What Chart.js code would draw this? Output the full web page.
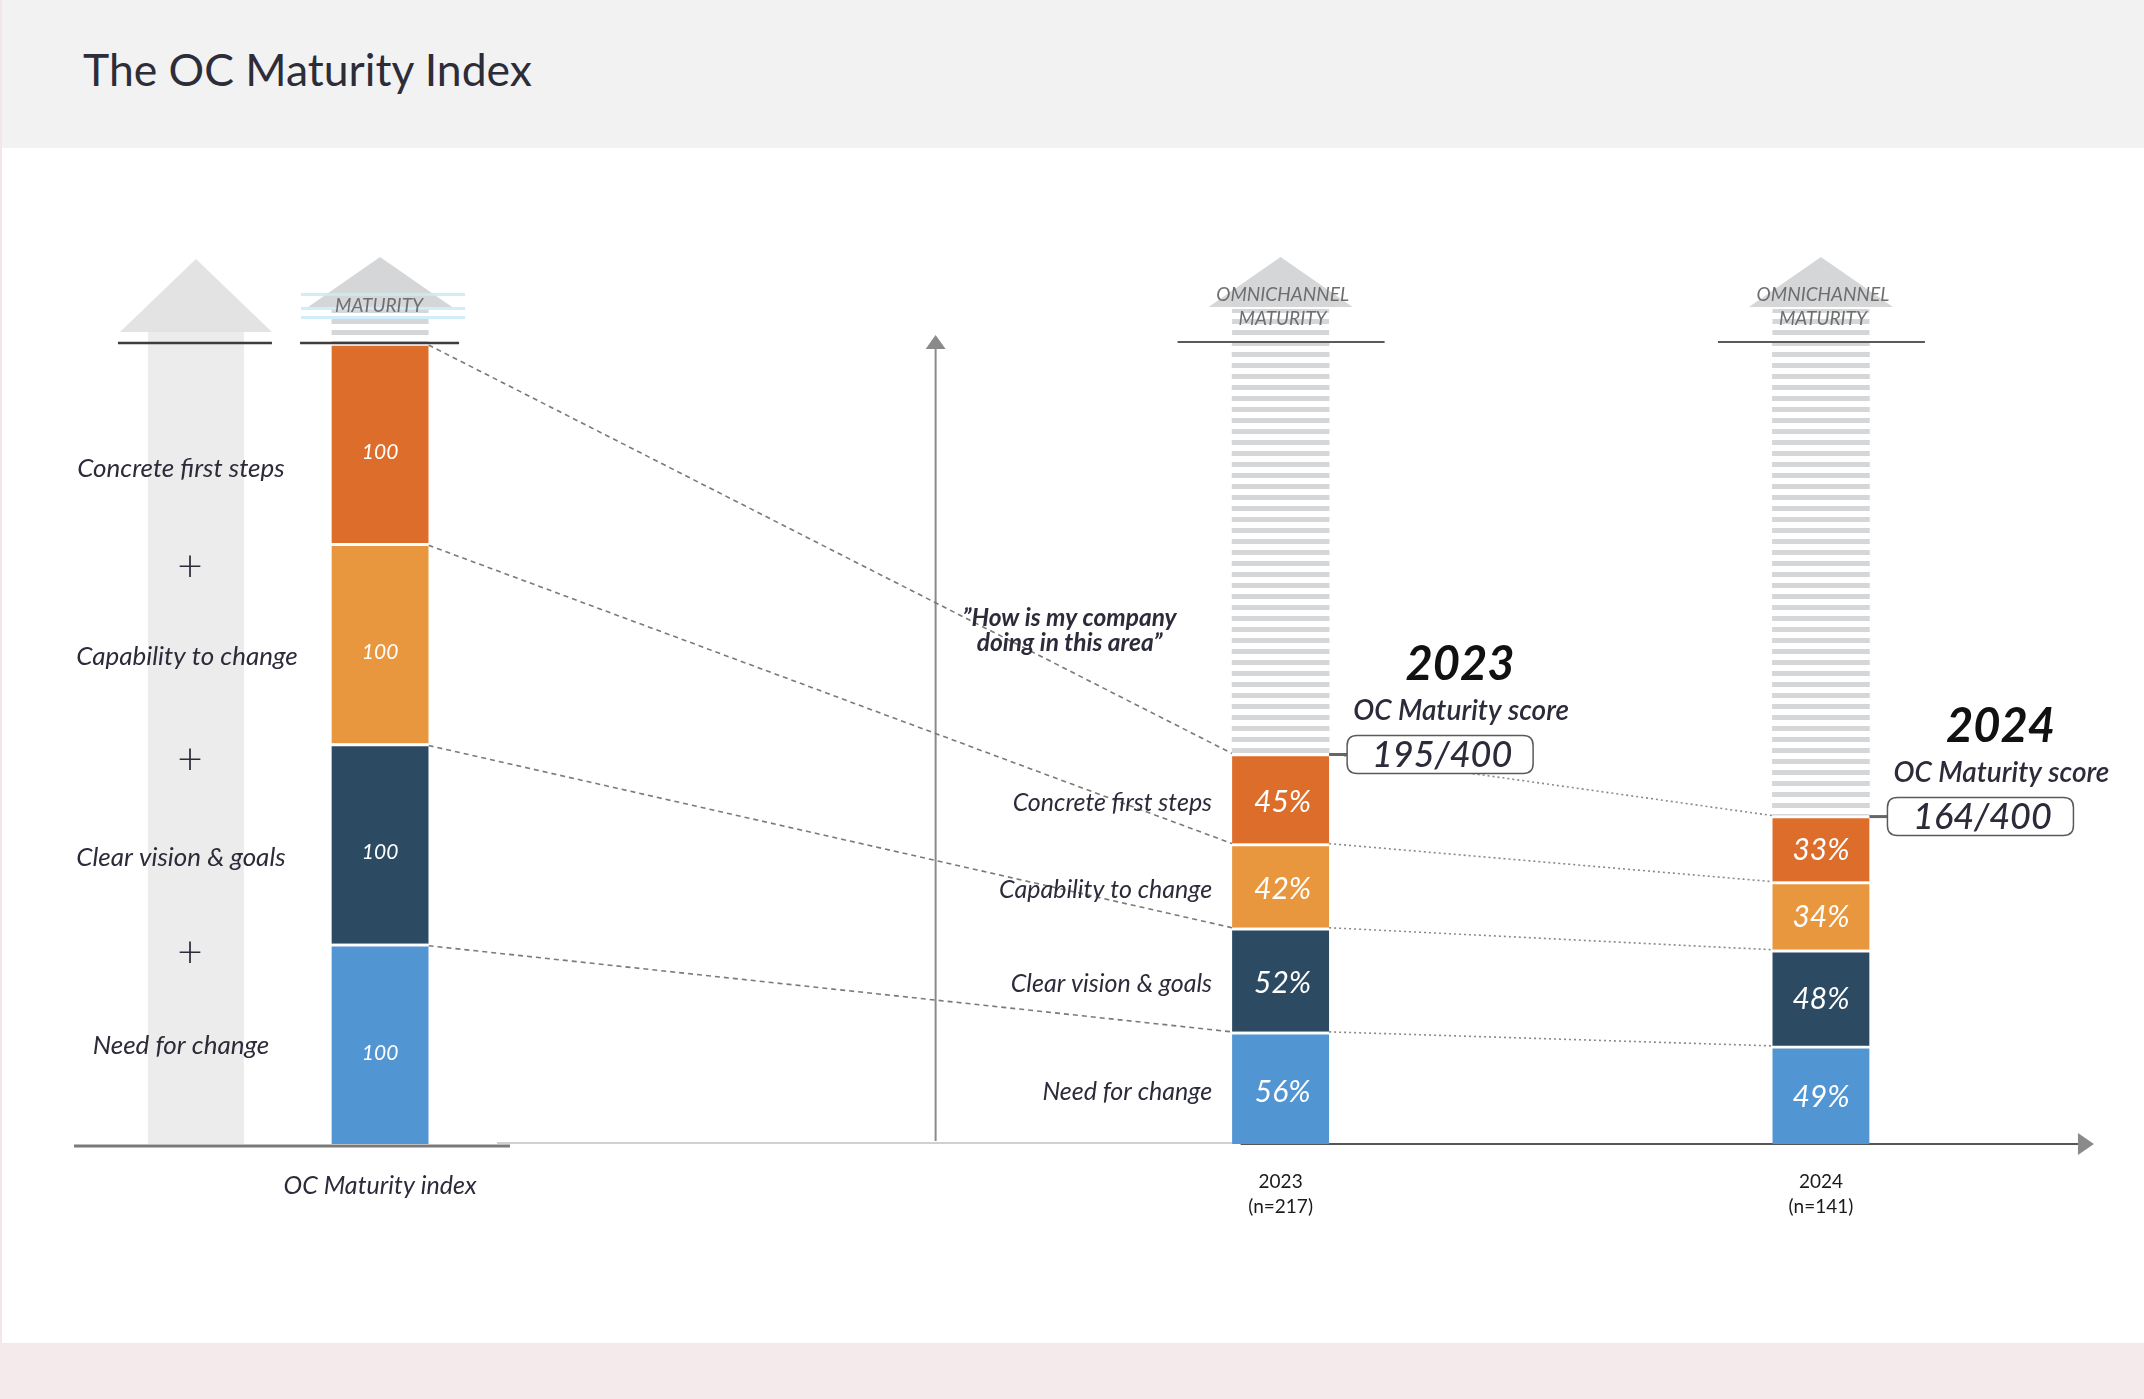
<!DOCTYPE html>
<html><head><meta charset="utf-8">
<script src="https://cdn.jsdelivr.net/npm/chart.js@4.4.1/dist/chart.umd.min.js"></script>
<style>
html,body{margin:0;padding:0;background:#fff;width:2144px;height:1399px;overflow:hidden;font-family:Lato,'Open Sans',sans-serif;}
#header{position:absolute;left:2px;top:0;width:2142px;height:148px;background:#f2f2f2;}
#title{position:absolute;left:81px;top:42px;font-size:44.5px;line-height:54px;color:#2d2d3a;font-weight:400;white-space:nowrap;}
#footer{position:absolute;left:0;top:1343px;width:2144px;height:56px;background:#f4eaec;}
#leftedge{position:absolute;left:0;top:0;width:2px;height:1343px;background:#f3e6e8;}
canvas{position:absolute;left:0;top:0;}
</style></head>
<body>
<div id="header"><div id="title">The OC Maturity Index</div></div>
<div id="leftedge"></div>
<div id="footer"></div>
<canvas id="c" width="2144" height="1399"></canvas>
<script>
// ---------------- data ----------------
const components = ['Need for change', 'Clear vision & goals', 'Capability to change', 'Concrete first steps'];
const indexValues = [100, 100, 100, 100];
const values2023 = [56, 52, 42, 45];
const values2024 = [49, 48, 34, 33];
const columnNames = ['OC Maturity index', '2023', '2024'];
const sampleSizes = ['', '(n=217)', '(n=141)'];
const maxScore = 400;

// ---------------- styles / layout ----------------
const segmentColors = ['#5195D3', '#2C4A62', '#E8973E', '#DC6D2B'];
const SLOTS = 9;
const columnSlots = [0, 5, 8];
const BAR_W = 97;
const DARK = '#2b2b3a';
const FONT = 'Lato, "Open Sans", sans-serif';
const leftLabelShift = [2, 14, 13, 25];   // vertical nudges of the left-hand names
const leftLabelDx = [0, 0, 6, 0];         // horizontal nudges of the left-hand names
const plusShift = [0, 9, 16, 24];         // vertical nudges of the "+" signs

function makePattern() {
  const c = document.createElement('canvas');
  c.width = 8; c.height = 11;
  const g = c.getContext('2d');
  g.fillStyle = '#ffffff'; g.fillRect(0, 0, 8, 11);
  g.fillStyle = '#d5d6d8'; g.fillRect(0, 0, 8, 5);
  return g.createPattern(c, 'repeat');
}

function tri(ctx, cx, apexY, baseY, hw, color) {
  ctx.beginPath(); ctx.moveTo(cx, apexY); ctx.lineTo(cx + hw, baseY); ctx.lineTo(cx - hw, baseY); ctx.closePath();
  ctx.fillStyle = color; ctx.fill();
}
function seg(ctx, x1, y1, x2, y2, color, w, dash) {
  ctx.save(); ctx.beginPath(); ctx.setLineDash(dash || []); ctx.strokeStyle = color; ctx.lineWidth = w;
  ctx.moveTo(x1, y1); ctx.lineTo(x2, y2); ctx.stroke(); ctx.restore();
}
function txt(ctx, s, x, y, font, color, align) {
  ctx.save(); ctx.font = font; ctx.fillStyle = color; ctx.textAlign = align || 'center'; ctx.textBaseline = 'middle';
  ctx.fillText(s, x, y); ctx.restore();
}
function roundRect(ctx, x, y, w, h, r) {
  ctx.beginPath();
  ctx.moveTo(x + r, y); ctx.lineTo(x + w - r, y); ctx.quadraticCurveTo(x + w, y, x + w, y + r);
  ctx.lineTo(x + w, y + h - r); ctx.quadraticCurveTo(x + w, y + h, x + w - r, y + h);
  ctx.lineTo(x + r, y + h); ctx.quadraticCurveTo(x, y + h, x, y + h - r);
  ctx.lineTo(x, y + r); ctx.quadraticCurveTo(x, y, x + r, y); ctx.closePath();
}

function build() {
  const pattern = makePattern();
  const labels = new Array(SLOTS).fill('');
  columnSlots.forEach((s, k) => { labels[s] = sampleSizes[k] ? [columnNames[k], sampleSizes[k]] : columnNames[k]; });
  const columns = [indexValues, values2023, values2024];

  const datasets = components.map((name, i) => {
    const data = new Array(SLOTS).fill(null);
    columns.forEach((col, k) => { data[columnSlots[k]] = col[i]; });
    return { label: name, data, backgroundColor: segmentColors[i], borderColor: '#ffffff',
      borderWidth: { top: 3, left: 0, right: 0, bottom: 0 }, borderSkipped: false, barThickness: BAR_W, stack: 's' };
  });
  const rem = new Array(SLOTS).fill(null);
  [values2023, values2024].forEach((col, k) => { rem[columnSlots[k + 1]] = maxScore - col.reduce((a, b) => a + b, 0); });
  datasets.push({ label: 'remaining', data: rem, backgroundColor: pattern, borderWidth: 0, barThickness: BAR_W, stack: 's' });

  const deco = {
    id: 'deco',
    beforeDatasetsDraw(chart) {
      const ctx = chart.ctx, xs = chart.scales.x, ys = chart.scales.y;
      const slotW = xs.getPixelForValue(1) - xs.getPixelForValue(0);
      const L = ys.getPixelForValue(maxScore), base = ys.getPixelForValue(0);
      const xL = xs.getPixelForValue(columnSlots[0]);
      const x23 = xs.getPixelForValue(columnSlots[1]);
      const x24 = xs.getPixelForValue(columnSlots[2]);
      const ax = xL - slotW - 4;
      // big background arrow
      ctx.fillStyle = '#ececec'; ctx.fillRect(ax - 48, L - 11, 96, base - (L - 11));
      tri(ctx, ax, L - 84, L - 11, 76, '#e3e3e3');
      // axes of the right panel
      const axX = x23 - 345;
      seg(ctx, 497, base - 1, x23 - 40, base - 1, '#d0d0d0', 2);
      seg(ctx, axX, base - 3, axX, L + 4, '#8a8a8a', 2);
      tri(ctx, axX, L - 8, L + 6, 10, '#8a8a8a');
      seg(ctx, x23 - 40, base, x24 + 257, base, '#555555', 2);
      ctx.beginPath(); ctx.moveTo(x24 + 273, base); ctx.lineTo(x24 + 257, base - 11); ctx.lineTo(x24 + 257, base + 11); ctx.closePath();
      ctx.fillStyle = '#8a8a8a'; ctx.fill();
      // connectors
      for (let i = 0; i < components.length; i++) {
        const m = chart.getDatasetMeta(i);
        const a = m.data[columnSlots[0]], b = m.data[columnSlots[1]], c = m.data[columnSlots[2]];
        seg(ctx, a.x + BAR_W / 2, a.y + 2, b.x - BAR_W / 2, b.y, '#7a7a7a', 1.6, [5, 4]);
        seg(ctx, b.x + BAR_W / 2, b.y, c.x - BAR_W / 2, c.y, '#8a8a8a', 1.6, [2, 3]);
      }
    },
    afterDatasetsDraw(chart) {
      const ctx = chart.ctx, xs = chart.scales.x, ys = chart.scales.y;
      const slotW = xs.getPixelForValue(1) - xs.getPixelForValue(0);
      const L = ys.getPixelForValue(maxScore), base = ys.getPixelForValue(0);
      const xL = xs.getPixelForValue(columnSlots[0]);
      const x23 = xs.getPixelForValue(columnSlots[1]);
      const ax = xL - slotW - 4;
      const hw = BAR_W / 2;
      // stripes + small arrows on top of each column
      columnSlots.forEach((s, k) => {
        const cx = xs.getPixelForValue(s);
        ctx.fillStyle = pattern; ctx.fillRect(cx - hw, L - 34, BAR_W, 34);
        tri(ctx, cx, L - 86, L - 36, 72, '#d5d6d8');
        if (k === 0) {
          ctx.fillStyle = 'rgba(200,234,248,0.85)';
          [L - 50, L - 36, L - 27].forEach(y => ctx.fillRect(cx - 79, y, 164, 3));
          txt(ctx, 'MATURITY', cx - 1, L - 37, 'italic 19px ' + FONT, '#6e6e6e');
          seg(ctx, cx - 80, L, cx + 79, L, '#3d3d3d', 2.5);
        } else {
          txt(ctx, 'OMNICHANNEL', cx + 2, L - 48, 'italic 19px ' + FONT, '#6e6e6e');
          txt(ctx, 'MATURITY', cx + 2, L - 24, 'italic 19px ' + FONT, '#6e6e6e');
          seg(ctx, cx - 103, L - 1, cx + 104, L - 1, '#5a5a5a', 2);
        }
      });
      seg(ctx, ax - 78, L, ax + 76, L, '#3d3d3d', 2.5);
      // left baseline
      seg(ctx, 74, base + 2, 510, base + 2, '#7a7a7a', 3);

      // labels
      for (let i = 0; i < components.length; i++) {
        const m = chart.getDatasetMeta(i);
        const a = m.data[columnSlots[0]];
        const cyL = (a.y + a.base) / 2;
        txt(ctx, String(indexValues[i]), a.x, cyL + 9, 'italic 21px ' + FONT, '#ffffff');
        txt(ctx, components[i], ax - 15 + leftLabelDx[i], cyL + leftLabelShift[i], 'italic 26px ' + FONT, DARK);
        if (i > 0) txt(ctx, '+', ax - 6, a.base + plusShift[i], '300 44px ' + FONT, DARK);
        const b = m.data[columnSlots[1]], c = m.data[columnSlots[2]];
        const cy23 = (b.y + b.base) / 2, cy24 = (c.y + c.base) / 2;
        txt(ctx, values2023[i] + '%', b.x + 2, cy23 + 4, 'italic 30px ' + FONT, '#ffffff');
        txt(ctx, values2024[i] + '%', c.x, cy24 + 2, 'italic 30px ' + FONT, '#ffffff');
        txt(ctx, components[i], b.x - hw - 20, cy23 + 4, 'italic 25px ' + FONT, DARK, 'right');
      }
      // question annotation
      txt(ctx, '\u201DHow is my company', x23 - 211, L + 275, 'bold italic 24.5px ' + FONT, DARK);
      txt(ctx, 'doing in this area\u201D', x23 - 211, L + 300, 'bold italic 24.5px ' + FONT, DARK);

      // score annotations
      [values2023, values2024].forEach((col, k) => {
        const total = col.reduce((a, b) => a + b, 0);
        const cx = xs.getPixelForValue(columnSlots[k + 1]);
        const T = ys.getPixelForValue(total);
        const bx = cx + hw + 18, bw = 186, bh = 38, by = T - 18;
        const bc = bx + bw / 2;
        seg(ctx, cx + hw, T + 1, bx, T + 1, '#666666', 3);
        ctx.save(); roundRect(ctx, bx, by, bw, bh, 10); ctx.fillStyle = '#ffffff'; ctx.fill();
        ctx.strokeStyle = '#5a5a5a'; ctx.lineWidth = 1.5; ctx.stroke(); ctx.restore();
        txt(ctx, total + '/' + maxScore, bc + 2, by + bh / 2 + 1, 'italic 500 36px ' + FONT, DARK);
        txt(ctx, 'OC Maturity score', bc + 21, T - 43, 'italic 600 28px ' + FONT, DARK);
        txt(ctx, columnNames[k + 1], bc + 20, T - 89, 'bold italic 47px ' + FONT, '#111111');
      });
    }
  };

  new Chart(document.getElementById('c'), {
    type: 'bar',
    data: { labels, datasets },
    options: {
      responsive: false, animation: false, devicePixelRatio: 1,
      layout: { padding: { top: 343, left: 290, right: 233, bottom: 0 } },
      plugins: { legend: { display: false }, tooltip: { enabled: false } },
      scales: {
        x: {
          stacked: true, offset: true,
          grid: { display: false, drawTicks: false }, border: { display: false },
          ticks: {
            autoSkip: false, maxRotation: 0, minRotation: 0, padding: 26,
            font: (c) => c.index === columnSlots[0]
              ? { family: FONT, size: 25, style: 'italic', lineHeight: 1.3 }
              : { family: FONT, size: 19, lineHeight: 1.3 },
            color: (c) => c.index === columnSlots[0] ? DARK : '#1a1a1a'
          },
          afterFit: (s) => { s.height = 255; }
        },
        y: { stacked: true, display: false, min: 0, max: maxScore }
      }
    },
    plugins: [deco]
  });
}

const fontLoads = ['19px Lato', 'italic 19px Lato', 'bold 19px Lato', 'bold italic 19px Lato', '300 19px Lato',
  'italic 600 19px Lato', 'italic 500 19px Lato']
  .map(f => document.fonts.load(f).catch(() => null));
Promise.all(fontLoads).then(build, build);
</script>
</body></html>
